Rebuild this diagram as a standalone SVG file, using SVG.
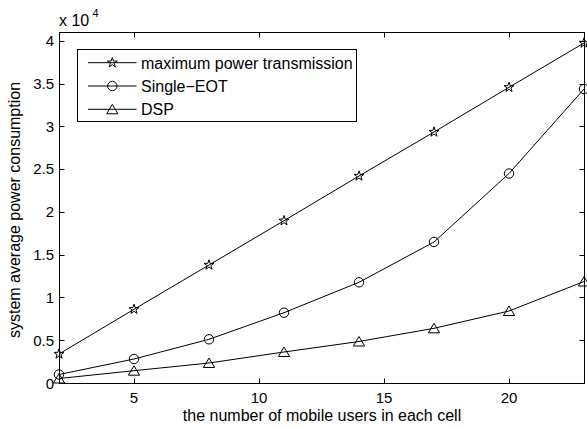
<svg xmlns="http://www.w3.org/2000/svg" xmlns:xlink="http://www.w3.org/1999/xlink" width="587" height="429" viewBox="0 0 587 429">
  <style>
    .ax { fill: none; stroke: #000; stroke-width: 1; }
    .tk { stroke: #000; stroke-width: 1; }
    .ln { fill: none; stroke: #000; stroke-width: 1; }
    .mk { fill: none; stroke: #000; stroke-width: 1; }
    text { font-family: "Liberation Sans", Arial, Helvetica, sans-serif; fill: #000; }
    .tl { font-size: 15px; }
    .lb { font-size: 16px; }
  </style>
  <defs>
    <path id="star" class="mk" d="M0,-5.2 L1.18,-1.62 L4.95,-1.61 L1.9,0.62 L3.06,4.21 L0,2 L-3.06,4.21 L-1.9,0.62 L-4.95,-1.61 L-1.18,-1.62 Z"/>
    <circle id="circ" class="mk" cx="0" cy="0" r="4.7"/>
    <path id="tri" class="mk" d="M0,-5 L5.6,4.5 L-5.6,4.5 Z"/>
  </defs>
  <rect width="587" height="429" fill="#fff"/>

  <!-- axes box and ticks -->
  <g id="axes">
    <rect class="ax" x="59.5" y="32.5" width="525" height="351"/>
    <g class="tk">
      <!-- x ticks bottom / top -->
      <path d="M134.5,383.5 V378.5 M259.5,383.5 V378.5 M384.5,383.5 V378.5 M509.5,383.5 V378.5"/>
      <path d="M134.5,32.5 V37.5 M259.5,32.5 V37.5 M384.5,32.5 V37.5 M509.5,32.5 V37.5"/>
      <!-- y ticks left / right -->
      <path d="M59.5,340.5 H64.5 M59.5,297.5 H64.5 M59.5,255.5 H64.5 M59.5,212.5 H64.5 M59.5,169.5 H64.5 M59.5,126.5 H64.5 M59.5,84.5 H64.5 M59.5,41.5 H64.5"/>
      <path d="M584.5,340.5 H579.5 M584.5,297.5 H579.5 M584.5,255.5 H579.5 M584.5,212.5 H579.5 M584.5,169.5 H579.5 M584.5,126.5 H579.5 M584.5,84.5 H579.5 M584.5,41.5 H579.5"/>
    </g>
    <g class="tl" text-anchor="end">
      <text x="54" y="388.5">0</text>
      <text x="54" y="345.5">0.5</text>
      <text x="54" y="302.5">1</text>
      <text x="54" y="260">1.5</text>
      <text x="54" y="217">2</text>
      <text x="54" y="174">2.5</text>
      <text x="54" y="131.5">3</text>
      <text x="54" y="89">3.5</text>
      <text x="54" y="46">4</text>
    </g>
    <g class="tl" text-anchor="middle">
      <text x="134" y="403">5</text>
      <text x="259" y="403">10</text>
      <text x="384" y="403">15</text>
      <text x="509" y="403">20</text>
    </g>
    <text class="lb" x="59" y="25.5">x 10</text>
    <text x="92.5" y="17" style="font-size:11px">4</text>
    <text class="lb" x="322" y="421" text-anchor="middle">the number of mobile users in each cell</text>
    <text class="lb" transform="translate(19.5,210) rotate(-90)" text-anchor="middle">system average power consumption</text>
  </g>

  <!-- data series -->
  <g id="series-max">
    <polyline class="ln" points="59,354 134,309.3 209,265 284,220.7 359,176 434,132 509,87.3 584,43"/>
    <use xlink:href="#star" x="59" y="354"/>
    <use xlink:href="#star" x="134" y="309.3"/>
    <use xlink:href="#star" x="209" y="265"/>
    <use xlink:href="#star" x="284" y="220.7"/>
    <use xlink:href="#star" x="359" y="176"/>
    <use xlink:href="#star" x="434" y="132"/>
    <use xlink:href="#star" x="509" y="87.3"/>
    <use xlink:href="#star" x="584" y="43"/>
  </g>
  <g id="series-eot">
    <polyline class="ln" points="59,374.5 134,359 209,339.3 284,312.7 359,282.3 434,242 509,173.5 584,89"/>
    <use xlink:href="#circ" x="59" y="374.5"/>
    <use xlink:href="#circ" x="134" y="359"/>
    <use xlink:href="#circ" x="209" y="339.3"/>
    <use xlink:href="#circ" x="284" y="312.7"/>
    <use xlink:href="#circ" x="359" y="282.3"/>
    <use xlink:href="#circ" x="434" y="242"/>
    <use xlink:href="#circ" x="509" y="173.5"/>
    <use xlink:href="#circ" x="584" y="89"/>
  </g>
  <g id="series-dsp">
    <polyline class="ln" points="59,378.5 134,370.7 209,363 284,352 359,341.5 434,328.3 509,311 584,281.5"/>
    <use xlink:href="#tri" x="59" y="378.5"/>
    <use xlink:href="#tri" x="134" y="370.7"/>
    <use xlink:href="#tri" x="209" y="363"/>
    <use xlink:href="#tri" x="284" y="352"/>
    <use xlink:href="#tri" x="359" y="341.5"/>
    <use xlink:href="#tri" x="434" y="328.3"/>
    <use xlink:href="#tri" x="509" y="311"/>
    <use xlink:href="#tri" x="584" y="281.5"/>
  </g>

  <!-- legend -->
  <g id="legend">
    <rect x="77.5" y="49.5" width="279" height="72" fill="#fff" stroke="#000" stroke-width="1"/>
    <path class="ln" d="M88,62.7 H136.5 M88,86 H136.5 M88,109.3 H136.5"/>
    <use xlink:href="#star" x="112.3" y="62.7"/>
    <use xlink:href="#circ" x="112.3" y="86"/>
    <use xlink:href="#tri" x="112.3" y="109.3"/>
    <g class="lb">
      <text x="141" y="68.5">maximum power transmission</text>
      <text x="141" y="91.5">Single−EOT</text>
      <text x="141" y="115">DSP</text>
    </g>
  </g>
</svg>
